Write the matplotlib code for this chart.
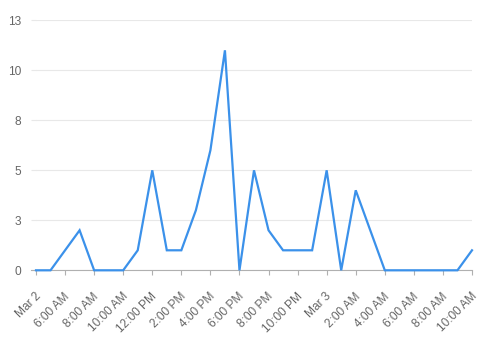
import numpy as np
import matplotlib
matplotlib.use("Agg")
import matplotlib.pyplot as plt
from matplotlib.transforms import ScaledTranslation

plt.rcParams["font.family"] = ["Liberation Sans", "DejaVu Sans"]

# hourly counts, Mar 2 4:00 AM .. Mar 3 10:00 AM
counts = [0, 0, 1, 2, 0, 0, 0, 1, 5, 1, 1, 3, 6, 11, 0, 5, 2, 1, 1, 1,
          5, 0, 4, 2, 0, 0, 0, 0, 0, 0, 1]
tick_labels = ["Mar 2", "6:00 AM", "8:00 AM", "10:00 AM", "12:00 PM", "2:00 PM",
               "4:00 PM", "6:00 PM", "8:00 PM", "10:00 PM", "Mar 3", "2:00 AM",
               "4:00 AM", "6:00 AM", "8:00 AM", "10:00 AM"]
y_ticks = [0, 2.5, 5, 7.5, 10, 12.5]
y_labels = ["0", "3", "5", "8", "10", "13"]

hours = np.arange(len(counts))

fig = plt.figure(figsize=(4.84, 3.37), dpi=100)
ax = fig.add_axes([36/484, 1-270.3/337, 436/484, 250/337])

ax.plot(hours, counts, color="#3b91ea", lw=1.6, solid_joinstyle="miter", clip_on=False, zorder=3)

ax.set_xlim(0, len(counts)-1)
ax.set_ylim(0, 12.5)

ax.set_yticks(y_ticks)
ax.set_yticklabels(y_labels)
ax.grid(axis="y", color="#e8e8e8", lw=0.8)
ax.tick_params(axis="y", length=3.6, color="#e8e8e8", pad=7, labelsize=8.6, labelcolor="#666666")

ax.set_xticks(np.arange(0, len(counts), 2))
ax.set_xticklabels(tick_labels, rotation=45, ha="right", va="center", rotation_mode="anchor")
ax.tick_params(axis="x", length=3.6, color="#b0b0b0", pad=9, labelsize=8.6, labelcolor="#666666")
shift = ScaledTranslation(3/100, -7/100, fig.dpi_scale_trans)
for lab in ax.get_xticklabels():
    lab.set_transform(lab.get_transform() + shift)

for s in ["top", "right", "left"]:
    ax.spines[s].set_visible(False)
ax.spines["bottom"].set_color("#b0b0b0")
ax.spines["bottom"].set_linewidth(0.8)
ax.spines["bottom"].set_bounds(-5/14.53, len(counts)-1)

plt.savefig("out.png", dpi=100)
